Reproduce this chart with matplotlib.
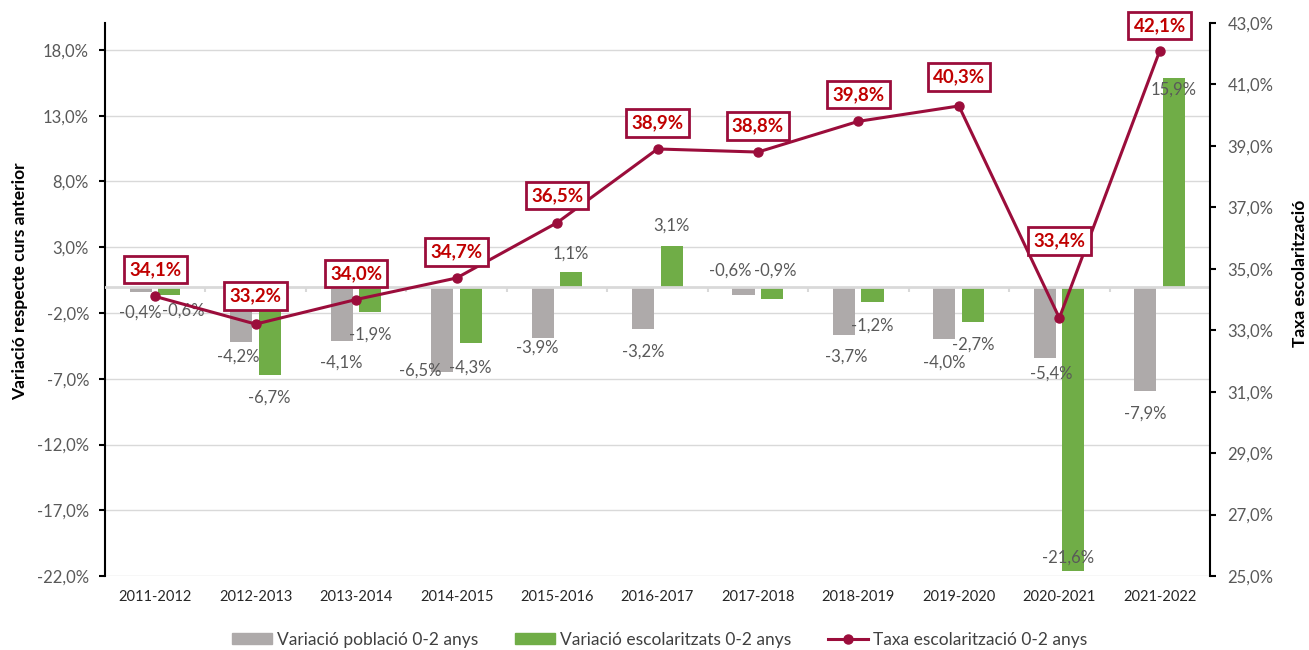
import numpy as np
import matplotlib
matplotlib.use("Agg")
import matplotlib.pyplot as plt
from matplotlib.patches import Patch
from matplotlib.lines import Line2D

plt.rcParams['font.family'] = ['Lato', 'DejaVu Sans']

cursos = ['2011-2012', '2012-2013', '2013-2014', '2014-2015', '2015-2016', '2016-2017',
          '2017-2018', '2018-2019', '2019-2020', '2020-2021', '2021-2022']
var_poblacio = [-0.4, -4.2, -4.1, -6.5, -3.9, -3.2, -0.6, -3.7, -4.0, -5.4, -7.9]
var_escolaritzats = [-0.6, -6.7, -1.9, -4.3, 1.1, 3.1, -0.9, -1.2, -2.7, -21.6, 15.9]
taxa = [34.1, 33.2, 34.0, 34.7, 36.5, 38.9, 38.8, 39.8, 40.3, 33.4, 42.1]

# label offsets in pixels (dx, dy) from bar end / point, as placed in the original
off_pob = [(0, -21), (-3, -15), (0, -22), (-22, 2), (-5, -10), (0, -23),
           (-13, 24), (2, -21), (0, -23), (6, -16), (0, -23)]
off_esc = [(14, -16), (0, -23), (0, -23), (0, -24), (0, 19), (0, 20),
           (3, 28), (0, -23), (0, -22), (-5, 13), (0, -12)]
off_taxa = [27, 28, 26, 26, 27, 26, 26, 27, 29, 77, 25]

GREY = '#AEAAAA'
GREEN = '#70AD47'
LINE = '#9B0D3B'
RED = '#C00000'
TXT = '#595959'


def pct(v):
    return f"{v:.1f}%".replace('.', ',')


fig, ax = plt.subplots(figsize=(13.09, 6.5), dpi=100)
fig.subplots_adjust(left=0.0802, right=0.9244, top=0.9646, bottom=0.1138)
ax2 = ax.twinx()

x = np.arange(len(cursos))
w = 0.22
ax.bar(x - 0.144, var_poblacio, w, color=GREY, zorder=2)
ax.bar(x + 0.14, var_escolaritzats, w, color=GREEN, zorder=2)

for i in range(len(cursos)):
    ax.annotate(pct(var_poblacio[i]), (x[i] - 0.144, var_poblacio[i]), xytext=off_pob[i],
                textcoords='offset pixels', ha='center', va='center', fontsize=12, color=TXT, zorder=5)
    ax.annotate(pct(var_escolaritzats[i]), (x[i] + 0.14, var_escolaritzats[i]), xytext=off_esc[i],
                textcoords='offset pixels', ha='center', va='center', fontsize=12, color=TXT, zorder=5)

ax.axhline(0, color='#D9D9D9', lw=2, zorder=3)
ax.vlines(np.arange(0.5, len(cursos) - 1, 1), -0.4, 0, color='#D9D9D9', lw=1.5, zorder=3)

ax.set_xlim(-0.5, len(cursos) - 0.5)
ax.set_ylim(-22, 20.05)
ax.set_yticks(np.arange(-22, 19, 5))
ax.set_yticklabels([pct(v) for v in np.arange(-22, 19, 5)])
ax.yaxis.grid(True, color='#D9D9D9', lw=1)
ax.set_axisbelow(True)
ax.set_xticks(x)
ax.set_xticklabels(cursos, fontsize=10.5, color='#262626')
ax.tick_params(axis='x', length=0, pad=10)
ax.tick_params(axis='y', length=4.5, width=1.5, color='black', labelsize=12, labelcolor=TXT, pad=7)

ax2.plot(x, taxa, color=LINE, lw=2.2, marker='o', markersize=6.5, zorder=4)
for i in range(len(cursos)):
    ax2.annotate(pct(taxa[i]), (x[i], taxa[i]), xytext=(0, off_taxa[i]), textcoords='offset pixels',
                 ha='center', va='center', fontsize=13.5, fontweight='bold', color=RED, zorder=6,
                 bbox=dict(boxstyle='square,pad=0.28', fc='white', ec=LINE, lw=2))
ax2.set_ylim(25, 43)
ax2.set_yticks(np.arange(25, 44, 2))
ax2.set_yticklabels([pct(v) for v in np.arange(25, 44, 2)])
ax2.tick_params(axis='y', length=4.5, width=1.5, color='black', labelsize=12, labelcolor=TXT, pad=8)

for a in (ax, ax2):
    a.spines['top'].set_visible(False)
    a.spines['bottom'].set_visible(False)
ax.spines['right'].set_visible(False)
ax2.spines['left'].set_visible(False)
ax.spines['left'].set_linewidth(1.5)
ax2.spines['right'].set_linewidth(1.5)

fig.text(0.0153, 0.568, 'Variació respecte curs anterior', rotation=90, ha='center', va='center',
         fontsize=12.5, fontweight='bold', color='black')
fig.text(0.9935, 0.58, 'Taxa escolarització', rotation=90, ha='center', va='center',
         fontsize=12.5, fontweight='bold', color='black')

handles = [Patch(color=GREY), Patch(color=GREEN),
           Line2D([], [], color=LINE, lw=2.2, marker='o', markersize=6.5)]
labels = ['Variació població 0-2 anys', 'Variació escolaritzats 0-2 anys', 'Taxa escolarització 0-2 anys']
fig.legend(handles, labels, loc='center', bbox_to_anchor=(0.504, 0.016), ncol=3, frameon=False,
           fontsize=12.5, labelcolor='#404040', handlelength=2.3, handleheight=0.65,
           handletextpad=0.3, columnspacing=2.1)

fig.savefig('out.png', dpi=100)
